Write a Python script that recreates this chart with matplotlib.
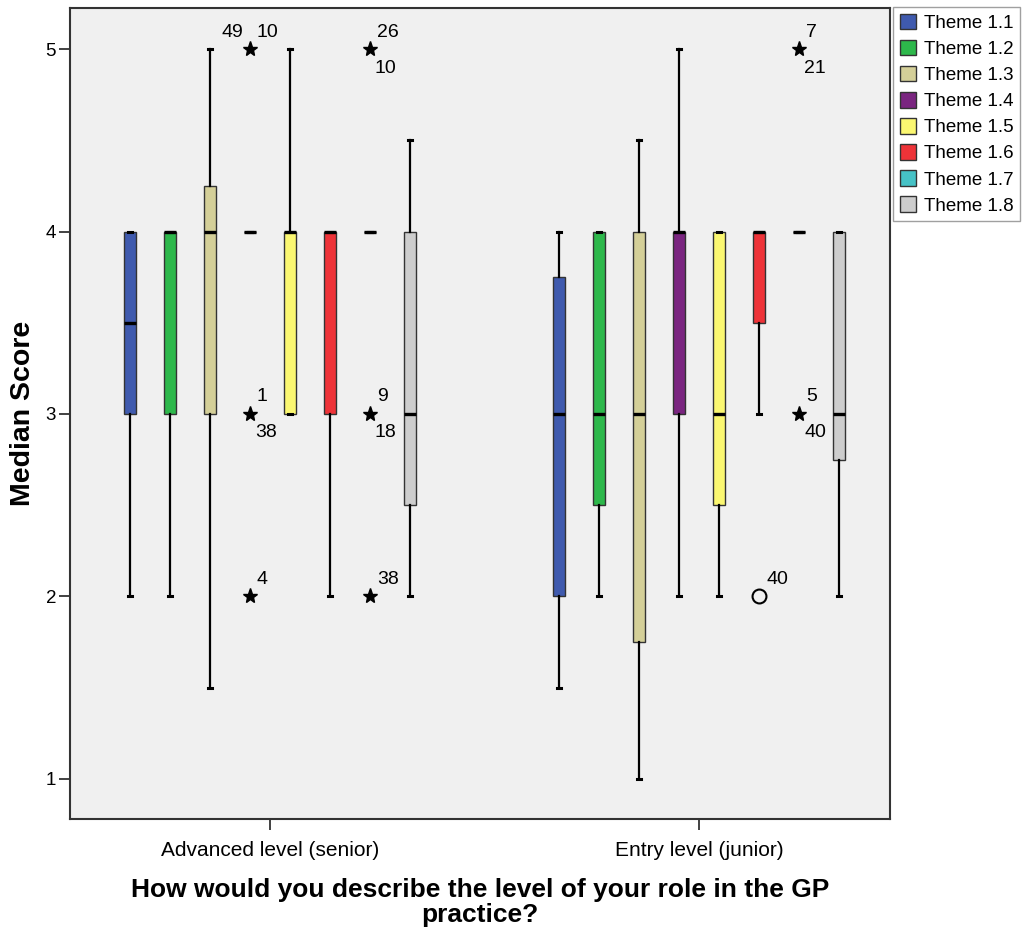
import numpy as np
import matplotlib.pyplot as plt
from matplotlib.patches import Patch

plt.rcParams['font.family'] = ['Liberation Sans', 'DejaVu Sans']

# Dados
groups = ['Advanced level (senior)', 'Entry level (junior)']
themes = ['Theme 1.1', 'Theme 1.2', 'Theme 1.3', 'Theme 1.4',
          'Theme 1.5', 'Theme 1.6', 'Theme 1.7', 'Theme 1.8']
colors = ['#3F5AAE', '#2DB84B', '#D4CF98', '#7A2580',
          '#FBF771', '#EE3338', '#46C2C6', '#CDCDCD']

# por grupo: uma lista por tema
whislo = [[2, 2, 1.5, 4, 3, 2, 4, 2],
          [1.5, 2, 1, 2, 2, 3, 4, 2]]
q1 = [[3, 3, 3, 4, 3, 3, 4, 2.5],
      [2, 2.5, 1.75, 3, 2.5, 3.5, 4, 2.75]]
med = [[3.5, 4, 4, 4, 4, 4, 4, 3],
       [3, 3, 3, 4, 3, 4, 4, 3]]
q3 = [[4, 4, 4.25, 4, 4, 4, 4, 4],
      [3.75, 4, 4, 4, 4, 4, 4, 4]]
whishi = [[4, 4, 5, 4, 5, 4, 4, 4.5],
          [4, 4, 4.5, 5, 4, 4, 4, 4]]

# outliers
flier_group = [0, 0, 0, 0, 0, 0, 1, 1, 1]
flier_theme = [3, 3, 3, 6, 6, 6, 6, 6, 5]
flier_value = [5, 3, 2, 5, 3, 2, 5, 3, 2]
flier_kind = ['*', '*', '*', '*', '*', '*', '*', '*', 'o']
flier_labels = [[('49', 'ul'), ('10', 'ur')],
                [('1', 'ur'), ('38', 'lr')],
                [('4', 'ur')],
                [('26', 'ur'), ('10', 'lr')],
                [('9', 'ur'), ('18', 'lr')],
                [('38', 'ur')],
                [('7', 'ur'), ('21', 'lr')],
                [('5', 'ur'), ('40', 'lr')],
                [('40', 'ur')]]

step = 0.0932
width = 0.028


def xpos(g, t):
    return g + (t - 3.5) * step


fig = plt.figure(figsize=(10.26, 9.36), dpi=100)
ax = fig.add_axes([70 / 1026, 1 - 819 / 936, 820 / 1026, 811 / 936])
ax.set_facecolor('#F0F0F0')

for g in range(len(groups)):
    for t in range(len(themes)):
        stats = [dict(med=med[g][t], q1=q1[g][t], q3=q3[g][t],
                      whislo=whislo[g][t], whishi=whishi[g][t], fliers=[])]
        ax.bxp(stats, positions=[xpos(g, t)], widths=width,
               patch_artist=True, showfliers=False, capwidths=0.008,
               manage_ticks=False,
               boxprops=dict(facecolor=colors[t], edgecolor='#333333', linewidth=1),
               medianprops=dict(color='black', linewidth=2.4, solid_capstyle='butt'),
               whiskerprops=dict(color='black', linewidth=1.6),
               capprops=dict(color='black', linewidth=2.2))

# outliers e rótulos
offsets = {'ul': (-7, 17, 'right'), 'ur': (7, 17, 'left'), 'lr': (5, -19, 'left')}
for g, t, v, k, labs in zip(flier_group, flier_theme, flier_value, flier_kind, flier_labels):
    x = xpos(g, t)
    if k == '*':
        ax.plot(x, v, marker='*', color='black', markersize=11, linestyle='none')
    else:
        ax.plot(x, v, marker='o', markerfacecolor='none', markeredgecolor='black',
                markersize=10, markeredgewidth=1.5, linestyle='none')
    for txt, p in labs:
        dx, dy, ha = offsets[p]
        ax.annotate(txt, (x, v), xytext=(dx, dy), textcoords='offset pixels',
                    ha=ha, va='center', fontsize=14)

ax.set_xlim(-0.466, 1.445)
ax.set_ylim(0.78, 5.225)
ax.set_xticks([0, 1])
ax.set_xticklabels(groups, fontsize=15)
ax.set_yticks([1, 2, 3, 4, 5])
ax.set_yticklabels(['1', '2', '3', '4', '5'], fontsize=13.5)
ax.tick_params(direction='out', length=8, width=1.3, color='#333333')
ax.tick_params(axis='x', pad=8)
ax.tick_params(axis='y', pad=2)
for s in ax.spines.values():
    s.set_color('#333333')
    s.set_linewidth(1.5)

ax.set_ylabel('Median Score', fontsize=20.5, fontweight='bold', labelpad=7)
ax.set_xlabel('How would you describe the level of your role in the GP\npractice?',
              fontsize=19, fontweight='bold', labelpad=13, linespacing=1.05)

handles = [Patch(facecolor=c, edgecolor='#333333', label=lab) for c, lab in zip(colors, themes)]
leg = fig.legend(handles=handles, loc='upper left', bbox_to_anchor=(893 / 1026, 1 - 7 / 936),
                 fontsize=13.5, frameon=True, fancybox=False, handlelength=0.9,
                 handleheight=0.9, handletextpad=0.4, labelspacing=0.42,
                 borderpad=0.35, borderaxespad=0)
leg.get_frame().set_edgecolor('#888888')
leg.get_frame().set_linewidth(1)

fig.savefig('out.png', dpi=100)
